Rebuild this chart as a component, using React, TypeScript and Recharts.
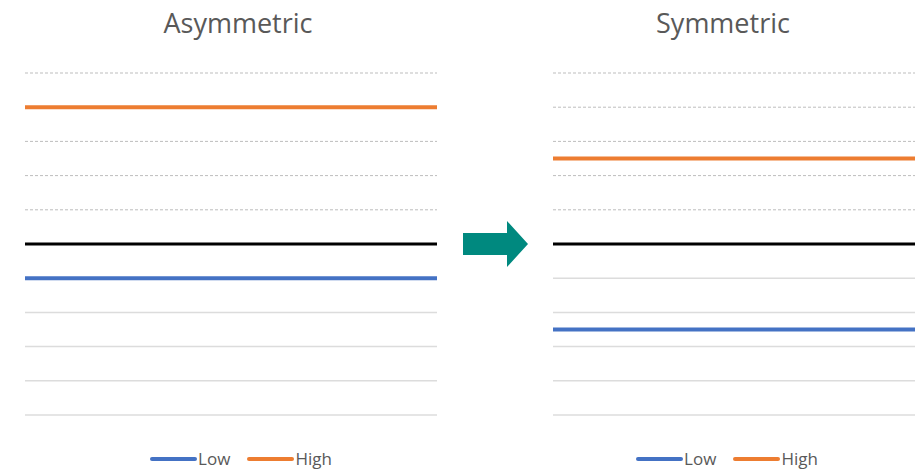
import { LineChart, Line, XAxis, YAxis, CartesianGrid } from "recharts";

const xPoints = ["start", "end"];
const baseline = [0, 0];
const asymLow = [-1, -1];
const asymHigh = [4, 4];
const symLow = [-2.5, -2.5];
const symHigh = [2.5, 2.5];
const upperTicks = [1, 2, 3, 4, 5];
const lowerTicks = [-5, -4, -3, -2, -1];

const series = [
  { key: "Low", color: "#4472C4" },
  { key: "High", color: "#ED7D31" },
];

const font = "'Open Sans', 'Liberation Sans', sans-serif";
const textGray = "#595959";

function buildData(low: number[], high: number[]) {
  return xPoints.map((x, i) => ({ x, Low: low[i], High: high[i], Base: baseline[i] }));
}

function Panel({
  title,
  low,
  high,
  left,
  titleCenter,
  legendCenter,
}: {
  title: string;
  low: number[];
  high: number[];
  left: number;
  titleCenter: number;
  legendCenter: number;
}) {
  const data = buildData(low, high);
  return (
    <>
      <div
        style={{
          position: "absolute",
          left: titleCenter - 150,
          width: 300,
          top: 5,
          textAlign: "center",
          fontFamily: font,
          fontSize: 27,
          color: textGray,
          lineHeight: "36px",
        }}
      >
        {title}
      </div>
      <div style={{ position: "absolute", left, top: 0 }}>
        <LineChart width={460} height={469} data={data} margin={{ top: 73, right: 23, bottom: 54, left: 25 }}>
          <CartesianGrid vertical={false} horizontalValues={upperTicks} stroke="#bdbdbd" strokeDasharray="3 2" />
          <CartesianGrid vertical={false} horizontalValues={lowerTicks} stroke="#dcdcdc" strokeWidth={1.5} />
          <XAxis dataKey="x" hide padding={{ left: 0, right: 0 }} />
          <YAxis hide type="number" domain={[-5, 5]} allowDataOverflow />
          <Line dataKey="Base" stroke="#000" strokeWidth={3} dot={false} isAnimationActive={false} />
          {series.map((s) => (
            <Line key={s.key} dataKey={s.key} stroke={s.color} strokeWidth={4} dot={false} isAnimationActive={false} />
          ))}
        </LineChart>
      </div>
      <div
        style={{
          position: "absolute",
          left: legendCenter - 150,
          width: 300,
          top: 447,
          display: "flex",
          justifyContent: "center",
          alignItems: "center",
          gap: 17,
          fontFamily: font,
          fontSize: 17,
          color: textGray,
        }}
      >
        {series.map((s) => (
          <div key={s.key} style={{ display: "flex", alignItems: "center", gap: 1 }}>
            <span style={{ display: "inline-block", width: 47, height: 4, background: s.color, borderRadius: 2 }} />
            <span>{s.key}</span>
          </div>
        ))}
      </div>
    </>
  );
}

export default function App() {
  return (
    <div
      style={{
        position: "absolute",
        left: 0,
        top: 0,
        width: 915,
        height: 469,
        overflow: "hidden",
        background: "#fff",
      }}
    >
      <Panel title="Asymmetric" low={asymLow} high={asymHigh} left={0} titleCenter={238} legendCenter={241} />
      <Panel title="Symmetric" low={symLow} high={symHigh} left={528} titleCenter={723} legendCenter={727} />
      <svg style={{ position: "absolute", left: 460, top: 218 }} width={72} height={52}>
        <polygon points="3,15 47,15 47,3 68,26 47,49 47,37 3,37" fill="#00897F" />
      </svg>
    </div>
  );
}
